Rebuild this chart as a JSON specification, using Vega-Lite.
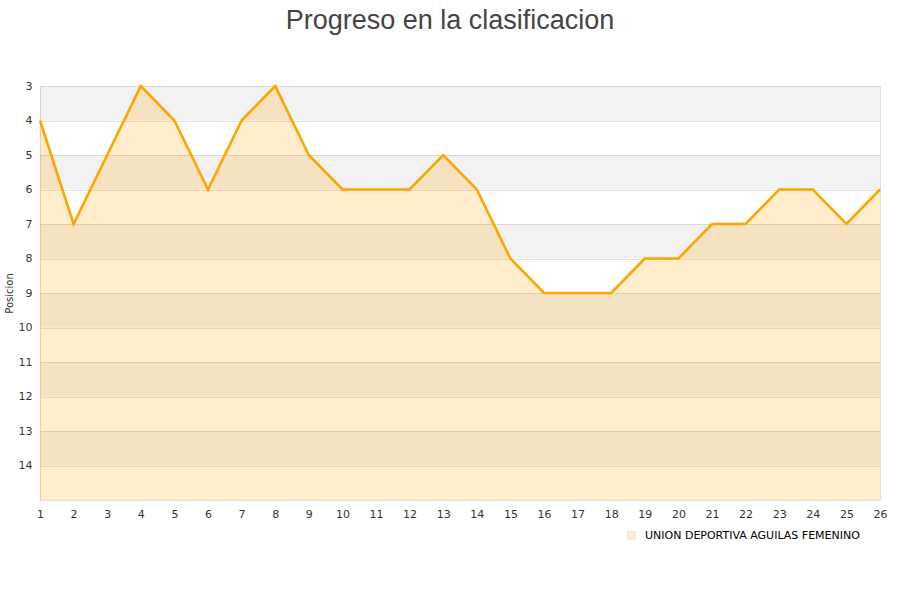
{
  "$schema": "https://vega.github.io/schema/vega-lite/v6.json",
  "autosize": "none",
  "width": 840,
  "height": 414,
  "padding": {"left": 40, "top": 86, "right": 20, "bottom": 100},
  "background": "white",
  "title": {
    "text": "Progreso en la clasificacion",
    "font": "Liberation Sans",
    "fontSize": 27,
    "fontWeight": "normal",
    "color": "#444444",
    "anchor": "middle",
    "dx": -10,
    "offset": 45
  },
  "datasets": {
    "bands": [
      {"lo": 3, "hi": 4},
      {"lo": 5, "hi": 6},
      {"lo": 7, "hi": 8},
      {"lo": 9, "hi": 10},
      {"lo": 11, "hi": 12},
      {"lo": 13, "hi": 14}
    ],
    "progress": [
      {"jornada": 1, "pos": 4, "equipo": "UNION DEPORTIVA AGUILAS FEMENINO"},
      {"jornada": 2, "pos": 7, "equipo": "UNION DEPORTIVA AGUILAS FEMENINO"},
      {"jornada": 3, "pos": 5, "equipo": "UNION DEPORTIVA AGUILAS FEMENINO"},
      {"jornada": 4, "pos": 3, "equipo": "UNION DEPORTIVA AGUILAS FEMENINO"},
      {"jornada": 5, "pos": 4, "equipo": "UNION DEPORTIVA AGUILAS FEMENINO"},
      {"jornada": 6, "pos": 6, "equipo": "UNION DEPORTIVA AGUILAS FEMENINO"},
      {"jornada": 7, "pos": 4, "equipo": "UNION DEPORTIVA AGUILAS FEMENINO"},
      {"jornada": 8, "pos": 3, "equipo": "UNION DEPORTIVA AGUILAS FEMENINO"},
      {"jornada": 9, "pos": 5, "equipo": "UNION DEPORTIVA AGUILAS FEMENINO"},
      {"jornada": 10, "pos": 6, "equipo": "UNION DEPORTIVA AGUILAS FEMENINO"},
      {"jornada": 11, "pos": 6, "equipo": "UNION DEPORTIVA AGUILAS FEMENINO"},
      {"jornada": 12, "pos": 6, "equipo": "UNION DEPORTIVA AGUILAS FEMENINO"},
      {"jornada": 13, "pos": 5, "equipo": "UNION DEPORTIVA AGUILAS FEMENINO"},
      {"jornada": 14, "pos": 6, "equipo": "UNION DEPORTIVA AGUILAS FEMENINO"},
      {"jornada": 15, "pos": 8, "equipo": "UNION DEPORTIVA AGUILAS FEMENINO"},
      {"jornada": 16, "pos": 9, "equipo": "UNION DEPORTIVA AGUILAS FEMENINO"},
      {"jornada": 17, "pos": 9, "equipo": "UNION DEPORTIVA AGUILAS FEMENINO"},
      {"jornada": 18, "pos": 9, "equipo": "UNION DEPORTIVA AGUILAS FEMENINO"},
      {"jornada": 19, "pos": 8, "equipo": "UNION DEPORTIVA AGUILAS FEMENINO"},
      {"jornada": 20, "pos": 8, "equipo": "UNION DEPORTIVA AGUILAS FEMENINO"},
      {"jornada": 21, "pos": 7, "equipo": "UNION DEPORTIVA AGUILAS FEMENINO"},
      {"jornada": 22, "pos": 7, "equipo": "UNION DEPORTIVA AGUILAS FEMENINO"},
      {"jornada": 23, "pos": 6, "equipo": "UNION DEPORTIVA AGUILAS FEMENINO"},
      {"jornada": 24, "pos": 6, "equipo": "UNION DEPORTIVA AGUILAS FEMENINO"},
      {"jornada": 25, "pos": 7, "equipo": "UNION DEPORTIVA AGUILAS FEMENINO"},
      {"jornada": 26, "pos": 6, "equipo": "UNION DEPORTIVA AGUILAS FEMENINO"}
    ]
  },
  "layer": [
    {
      "data": {"name": "bands"},
      "mark": {"type": "rect", "color": "#000000", "opacity": 0.05},
      "encoding": {
        "x": {
          "datum": 1,
          "type": "quantitative",
          "scale": {"domain": [1, 26], "nice": false, "zero": false},
          "axis": {
            "title": null,
            "values": [1, 2, 3, 4, 5, 6, 7, 8, 9, 10, 11, 12, 13, 14, 15, 16, 17, 18, 19, 20, 21, 22, 23, 24, 25, 26],
            "tickCount": 26,
            "grid": false,
            "labelFlush": false
          }
        },
        "x2": {"datum": 26},
        "y": {
          "field": "lo",
          "type": "quantitative",
          "scale": {"domain": [3, 15], "reverse": true, "nice": false, "zero": false},
          "axis": {
            "title": "Posicion",
            "titleFont": "DejaVu Sans",
            "titleFontSize": 10,
            "titleFontWeight": "normal",
            "titleColor": "#333333",
            "titlePadding": 4,
            "values": [3, 4, 5, 6, 7, 8, 9, 10, 11, 12, 13, 14],
            "tickCount": 12,
            "grid": true,
            "gridColor": "#e2e2e2"
          }
        },
        "y2": {"field": "hi"}
      }
    },
    {
      "data": {"name": "progress"},
      "mark": {"type": "area", "opacity": 0.2},
      "encoding": {
        "x": {"field": "jornada", "type": "quantitative"},
        "y": {"field": "pos", "type": "quantitative"},
        "y2": {"datum": 15},
        "color": {
          "field": "equipo",
          "type": "nominal",
          "scale": {"range": ["#ffa500"]},
          "legend": {
            "title": null,
            "orient": "none",
            "legendX": 586,
            "legendY": 444,
            "symbolType": "square",
            "symbolSize": 56,
            "symbolStrokeColor": "#8a7a60",
            "symbolStrokeWidth": 1,
            "labelLimit": 400,
            "labelFont": "DejaVu Sans",
            "labelFontSize": 11,
            "labelColor": "#000000",
            "labelOffset": 8,
            "encode": {
              "symbols": {
                "update": {
                  "fill": {"value": "#fde9c2"},
                  "stroke": {"value": "#8a7a60"},
                  "strokeWidth": {"value": 1},
                  "opacity": {"value": 1},
                  "fillOpacity": {"value": 1},
                  "strokeOpacity": {"value": 1}
                }
              }
            }
          }
        }
      }
    },
    {
      "data": {"name": "progress"},
      "mark": {"type": "line", "color": "#ffa500", "strokeWidth": 2.6},
      "encoding": {
        "x": {"field": "jornada", "type": "quantitative"},
        "y": {"field": "pos", "type": "quantitative"}
      }
    }
  ],
  "config": {
    "view": {"stroke": "#dddddd"},
    "axis": {
      "labelOverlap": false,
      "labelBound": false,
      "ticks": false,
      "domain": false,
      "labelPadding": 8,
      "labelFont": "DejaVu Sans",
      "labelFontSize": 11,
      "labelColor": "#333333"
    }
  }
}
